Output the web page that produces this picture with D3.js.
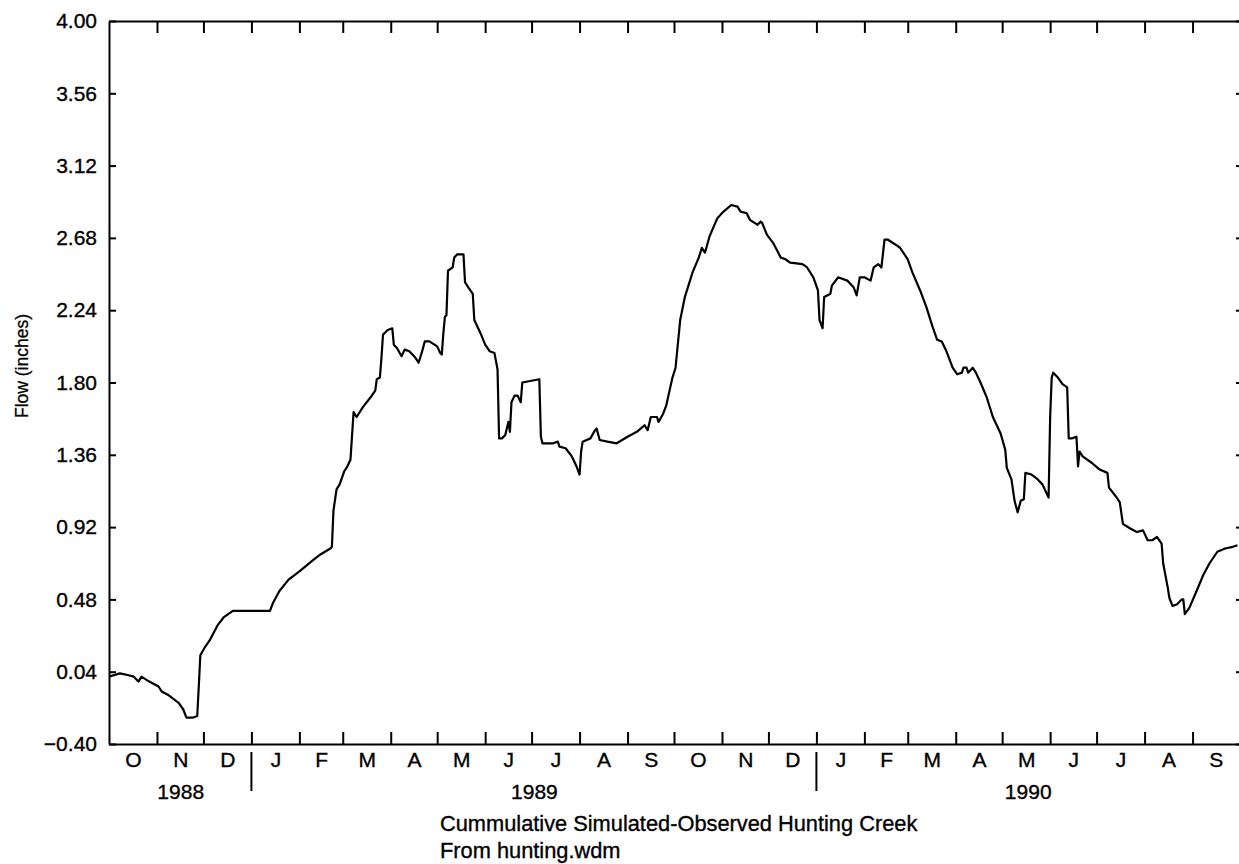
<!DOCTYPE html>
<html><head><meta charset="utf-8">
<script src="https://cdn.jsdelivr.net/npm/d3@7"></script>
<style>
body{margin:0;background:#fff}
svg{display:block}
text{font-family:"Liberation Sans",Arial,Helvetica,sans-serif;fill:#000}
</style>
</head><body><svg id="c" width="1239" height="864"></svg>
<script>
const recordStart = "1988-10-01";
const recordEnd = "1990-10-01";
// day of record (days since 1988-10-01) and cumulative simulated-observed flow (inches)
const dayOfRecord = [0,7,12,16,19,21,26,32,34,38,45,48,50,54,57,58,59,62,65,70,74,80,89,104,106,110,116,123,132,136,143,144,145,147,149,152,154,156,158,160,164,169,172,173,175,176,177,180,183,184,186,189,191,194,198,200,202,204,207,212,214,215,216,217,218,219,222,223,225,229,230,232,235,236,240,243,246,249,251,252,254,256,258,259,260,262,264,266,267,278,279,280,287,290,291,295,299,302,304,305,306,311,314,315,317,322,328,335,341,346,348,350,354,355,358,360,364,366,369,372,377,381,383,385,388,393,397,402,406,408,412,414,419,421,422,425,429,434,437,440,448,451,455,458,459,461,462,464,466,467,471,477,481,483,485,488,492,494,497,499,501,503,508,511,516,519,524,528,532,535,538,541,545,548,551,552,554,555,558,560,563,567,571,576,579,580,583,585,587,589,591,592,596,600,603,606,607,608,609,610,613,616,619,620,622,625,626,627,629,635,640,645,646,651,653,655,660,664,668,671,674,677,680,681,684,685,687,690,693,694,695,698,703,707,711,716,721,726,729];
const flowInches = [0.01,0.03,0.02,0.01,-0.02,0.01,-0.02,-0.05,-0.08,-0.10,-0.15,-0.19,-0.24,-0.24,-0.23,-0.05,0.14,0.19,0.23,0.32,0.37,0.41,0.41,0.41,0.46,0.53,0.60,0.65,0.72,0.75,0.79,0.80,1.02,1.15,1.18,1.26,1.29,1.33,1.62,1.59,1.65,1.71,1.75,1.82,1.83,1.95,2.09,2.12,2.13,2.03,2.01,1.96,2.00,1.99,1.95,1.92,1.98,2.05,2.05,2.02,1.98,1.97,2.10,2.20,2.21,2.48,2.50,2.56,2.58,2.58,2.41,2.38,2.34,2.18,2.10,2.03,1.99,1.98,1.88,1.46,1.46,1.48,1.56,1.50,1.68,1.72,1.72,1.68,1.80,1.82,1.47,1.43,1.43,1.44,1.41,1.40,1.35,1.29,1.24,1.38,1.44,1.46,1.51,1.52,1.45,1.44,1.43,1.47,1.50,1.54,1.51,1.59,1.59,1.56,1.61,1.66,1.83,1.89,2.18,2.32,2.47,2.56,2.62,2.59,2.69,2.80,2.84,2.88,2.87,2.84,2.83,2.79,2.76,2.78,2.77,2.70,2.65,2.56,2.55,2.53,2.52,2.50,2.44,2.36,2.18,2.13,2.32,2.33,2.34,2.39,2.44,2.42,2.38,2.33,2.44,2.44,2.42,2.50,2.52,2.50,2.67,2.67,2.64,2.62,2.55,2.47,2.36,2.26,2.14,2.06,2.05,1.99,1.89,1.85,1.86,1.89,1.89,1.86,1.89,1.86,1.80,1.71,1.59,1.49,1.39,1.28,1.21,1.08,1.01,1.08,1.09,1.25,1.24,1.21,1.18,1.12,1.10,1.59,1.83,1.86,1.83,1.79,1.77,1.46,1.46,1.47,1.29,1.38,1.35,1.31,1.27,1.25,1.16,1.10,1.07,0.94,0.91,0.89,0.90,0.84,0.84,0.86,0.82,0.70,0.55,0.49,0.44,0.45,0.48,0.48,0.39,0.43,0.54,0.63,0.70,0.77,0.79,0.80,0.81];
const yTickValues = [-0.40,0.04,0.48,0.92,1.36,1.80,2.24,2.68,3.12,3.56,4.00];
const monthLabels = ["O","N","D","J","F","M","A","M","J","J","A","S","O","N","D","J","F","M","A","M","J","J","A","S"];
const yearLabels = ["1988","1989","1990"];
const yAxisTitle = "Flow (inches)";
const captionLines = ["Cummulative Simulated-Observed Hunting Creek","From hunting.wdm"];

const svg = d3.select("#c");
const parse = d3.utcParse("%Y-%m-%d");
const t0 = parse(recordStart), t1 = parse(recordEnd);
const L = 109, R = 1239, T = 21, B = 744;
const FONT = '"Liberation Sans",Arial,Helvetica,sans-serif';
const x = d3.scaleUtc().domain([t0, t1]).range([L, R]);
const y = d3.scaleLinear().domain([-0.40, 4.00]).range([B, T]);

const months = d3.utcMonth.range(t0, t1);
const inner = months.slice(1);
const mids = months.map(m => new Date((+m + +d3.utcMonth.offset(m, 1)) / 2));
const yearStarts = d3.utcYear.range(t0, t1).filter(d => +d > +t0);
const yearSpans = yearLabels.map((lab, i) => {
  const a = i === 0 ? t0 : yearStarts[i - 1];
  const b = i < yearStarts.length ? yearStarts[i] : t1;
  return new Date((+a + +b) / 2);
});

function styleAxis(g, fs) {
  g.attr("font-size", fs).attr("font-family", FONT);
  g.selectAll("path.domain").attr("stroke", "#000").attr("stroke-width", 2);
  g.selectAll(".tick line").attr("stroke", "#000").attr("stroke-width", 2);
  g.selectAll("text").attr("font-size", fs).attr("font-family", FONT).attr("fill", "#000")
    .attr("stroke", "#000").attr("stroke-width", 0.35);
}

// bottom frame + ticks
svg.append("g").attr("transform", `translate(0,${B})`)
  .call(d3.axisBottom(x).tickValues(inner).tickSizeInner(-12).tickSizeOuter(0).tickFormat(""))
  .call(g => styleAxis(g, 21));
// top frame + ticks
svg.append("g").attr("transform", `translate(0,${T})`)
  .call(d3.axisTop(x).tickValues(inner).tickSizeInner(-12).tickSizeOuter(0).tickFormat(""))
  .call(g => styleAxis(g, 21));
// month letters
svg.append("g").attr("transform", `translate(0,${B})`)
  .call(d3.axisBottom(x).tickValues(mids).tickSize(0).tickPadding(8).tickFormat((d, i) => monthLabels[i]))
  .call(g => { g.select(".domain").remove(); styleAxis(g, 21); });
// year labels
svg.append("g").attr("transform", `translate(0,${B})`)
  .call(d3.axisBottom(x).tickValues(yearSpans).tickSize(0).tickPadding(40).tickFormat((d, i) => yearLabels[i]))
  .call(g => { g.select(".domain").remove(); styleAxis(g, 21); });
// year separators
svg.append("g").selectAll("line").data(yearStarts).join("line")
  .attr("x1", d => x(d)).attr("x2", d => x(d)).attr("y1", B + 8).attr("y2", B + 47)
  .attr("stroke", "#000").attr("stroke-width", 2);

// left axis
svg.append("g").attr("transform", `translate(${L},0)`)
  .call(d3.axisLeft(y).tickValues(yTickValues).tickSizeInner(-7).tickSizeOuter(0).tickPadding(12).tickFormat(d3.format(".2f")))
  .call(g => styleAxis(g, 21));
// right ticks
svg.append("g").attr("transform", `translate(${R + 2},0)`)
  .call(d3.axisRight(y).tickValues(yTickValues).tickSizeInner(-5).tickSizeOuter(0).tickFormat(""))
  .call(g => { g.select(".domain").remove(); styleAxis(g, 21); });

// y title
svg.append("text").attr("transform", "translate(28,366) rotate(-90)")
  .attr("text-anchor", "middle").attr("font-size", 17.5).attr("font-family", FONT)
  .attr("stroke", "#000").attr("stroke-width", 0.3).text(yAxisTitle);

// caption
svg.append("g").selectAll("text").data(captionLines).join("text")
  .attr("x", 440).attr("y", (d, i) => 831 + i * 27).attr("font-size", 21.8).attr("font-family", FONT)
  .attr("stroke", "#000").attr("stroke-width", 0.35).text(d => d);

// series
const pts = dayOfRecord.map((d, i) => [d3.utcDay.offset(t0, d), flowInches[i]]);
svg.append("path").datum(pts)
  .attr("fill", "none").attr("stroke", "#000").attr("stroke-width", 2.2).attr("stroke-linejoin", "round")
  .attr("d", d3.line().x(d => x(d[0])).y(d => y(d[1])));
</script>
</body></html>
